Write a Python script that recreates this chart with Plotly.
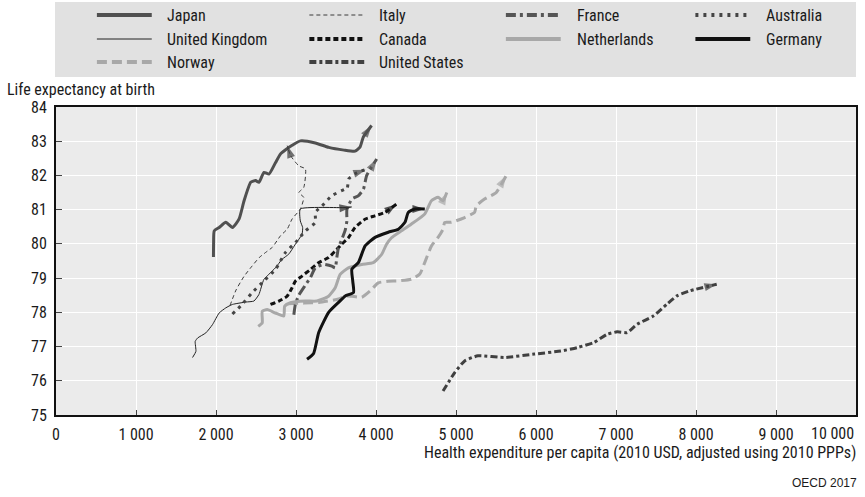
import plotly.graph_objects as go

# ---------------- data ----------------
japan_x = [1968, 1970, 1978, 2040, 2123, 2206, 2289, 2351, 2434, 2496, 2537, 2600, 2662, 2745, 2807, 2870, 2952, 3055, 3241, 3408, 3600, 3738, 3800, 3841, 3945]
japan_y = [79.62, 80.0, 80.38, 80.48, 80.63, 80.48, 80.73, 81.26, 81.8, 81.85, 81.8, 82.09, 82.04, 82.38, 82.63, 82.75, 82.88, 83.01, 82.95, 82.82, 82.74, 82.71, 82.83, 83.12, 83.46]

italy_x = [2175, 2250, 2350, 2450, 2540, 2620, 2704, 2807, 2890, 2952, 3055, 3097, 3035, 3097, 3118, 3035, 2932, 2890]
italy_y = [78.2, 78.65, 79.05, 79.35, 79.6, 79.75, 79.9, 80.24, 80.43, 80.73, 81.02, 81.36, 81.5, 81.65, 82.19, 82.28, 82.58, 82.87]

france_x = [2973, 2992, 3035, 3118, 3179, 3241, 3345, 3448, 3490, 3510, 3531, 3574, 3615, 3636, 3636, 3698, 3781, 3843, 3884, 4009]
france_y = [77.93, 78.23, 78.5, 78.8, 79.01, 79.3, 79.4, 79.35, 79.3, 79.6, 79.89, 80.14, 80.4, 80.67, 81.0, 81.31, 81.41, 81.6, 82.0, 82.48]

australia_x = [2205, 2309, 2454, 2600, 2745, 2869, 2993, 3118, 3242, 3242, 3325, 3449, 3615, 3640, 3660, 3760, 3870]
australia_y = [77.95, 78.19, 78.58, 78.92, 79.26, 79.75, 80.04, 80.38, 80.63, 80.92, 81.11, 81.41, 81.6, 81.62, 81.9, 82.08, 82.17]

uk_x = [1707, 1749, 1740, 1770, 1873, 1956, 2039, 2122, 2205, 2371, 2474, 2536, 2598, 2660, 2743, 2826, 2909, 2992, 3075, 3083, 3054, 3054, 3614, 3697]
uk_y = [76.68, 76.86, 77.15, 77.25, 77.4, 77.64, 77.98, 78.13, 78.23, 78.3, 78.33, 78.52, 78.96, 79.11, 79.3, 79.55, 79.7, 79.99, 80.28, 80.48, 80.67, 81.02, 81.06, 81.08]

canada_x = [2681, 2785, 2888, 2951, 2992, 3075, 3179, 3282, 3407, 3490, 3572, 3655, 3738, 3862, 3987, 4111, 4256]
canada_y = [78.23, 78.33, 78.47, 78.72, 78.91, 79.06, 79.25, 79.45, 79.6, 79.79, 79.99, 80.18, 80.48, 80.72, 80.82, 80.92, 81.16]

netherlands_x = [2528, 2578, 2578, 2640, 2743, 2847, 2859, 2930, 3117, 3262, 3407, 3490, 3552, 3655, 3821, 3966, 4070, 4132, 4194, 4318, 4443, 4608, 4693, 4776, 4838, 4885]
netherlands_y = [77.59, 77.69, 78.03, 78.08, 77.98, 77.89, 78.18, 78.28, 78.33, 78.33, 78.47, 78.72, 79.11, 79.3, 79.4, 79.45, 79.69, 79.99, 80.18, 80.38, 80.58, 80.87, 81.26, 81.36, 81.26, 81.5]

germany_x = [3138, 3220, 3284, 3408, 3532, 3616, 3719, 3710, 3698, 3781, 3864, 3988, 4154, 4279, 4362, 4403, 4486, 4610]
germany_y = [76.63, 76.8, 77.41, 78.0, 78.29, 78.48, 78.58, 78.9, 79.26, 79.46, 79.94, 80.19, 80.34, 80.43, 80.63, 80.92, 81.02, 81.02]

norway_x = [2900, 3100, 3284, 3532, 3616, 3697, 3822, 3924, 4028, 4152, 4279, 4444, 4548, 4610, 4693, 4776, 4838, 4859, 4942, 5108, 5232, 5253, 5357, 5502, 5626]
norway_y = [78.25, 78.27, 78.29, 78.39, 78.48, 78.47, 78.44, 78.62, 78.86, 78.91, 78.92, 78.97, 79.12, 79.46, 79.94, 80.19, 80.43, 80.63, 80.63, 80.77, 80.92, 81.11, 81.31, 81.5, 81.99]

us_x = [4838, 4984, 5108, 5274, 5606, 5979, 6310, 6517, 6725, 6891, 7015, 7139, 7264, 7471, 7637, 7761, 7927, 8259]
us_y = [75.7, 76.24, 76.58, 76.73, 76.68, 76.78, 76.87, 76.97, 77.12, 77.36, 77.43, 77.41, 77.65, 77.9, 78.24, 78.48, 78.63, 78.82]

xtick_vals = [0, 1000, 2000, 3000, 4000, 5000, 6000, 7000, 8000, 9000, 10000]
xtick_text = ["0", "1 000", "2 000", "3 000", "4 000", "5 000", "6 000", "7 000", "8 000", "9 000", "10 000"]
ytick_vals = [75, 76, 77, 78, 79, 80, 81, 82, 83, 84]

# ---------------- styling ----------------
NARROW = "Roboto Condensed, Liberation Sans Narrow, Arial Narrow, sans-serif"
TXT = "#1a1a1a"
FS = 16

# name, x, y, colour, width, dash, legend column, legend row
series = [
    ("Japan", japan_x, japan_y, "#505050", 3, "solid", 0, 0),
    ("United Kingdom", uk_x, uk_y, "#222222", 1, "solid", 0, 1),
    ("Norway", norway_x, norway_y, "#a8a8a8", 3, "10px,5px", 0, 2),
    ("Italy", italy_x, italy_y, "#3a3a3a", 1, "4px,3px", 1, 0),
    ("Canada", canada_x, canada_y, "#111111", 3, "5px,3px", 1, 1),
    ("United States", us_x, us_y, "#404040", 3, "7px,3px,3px,3px", 1, 2),
    ("France", france_x, france_y, "#555555", 3, "10px,4px,3px,4px", 2, 0),
    ("Netherlands", netherlands_x, netherlands_y, "#a8a8a8", 3, "solid", 2, 1),
    ("Australia", australia_x, australia_y, "#454545", 3, "3px,5px", 3, 0),
    ("Germany", germany_x, germany_y, "#111111", 3, "solid", 3, 1),
]

W, H = 865, 497
ML, MR, MT, MB = 56, 7, 107, 82
PW, PH = W - ML - MR, H - MT - MB


def px_x(p):
    return (p - ML) / PW


def px_y(p):
    return (H - MB - p) / PH


LEG_SYM_X = [97, 310, 507, 697]
LEG_SYM_W = 55
LEG_TXT_X = [165, 378, 576, 766]
LEG_ROW_Y = [15, 39, 62]

fig = go.Figure()
for name, xs, ys, color, width, dash, col, row in series:
    fig.add_trace(go.Scatter(
        x=xs, y=ys, mode="lines", name=name, showlegend=False,
        line=dict(color=color, width=width, dash=dash, shape="spline", smoothing=0.5),
    ))
for name, xs, ys, color, width, dash, col, row in series:
    fig.add_trace(go.Scatter(
        x=xs[-2:], y=ys[-2:], mode="markers", showlegend=False, hoverinfo="skip",
        marker=dict(symbol="arrow", size=[0, 13], angleref="previous", color=color,
                    line=dict(width=0)),
    ))

shapes = [dict(type="rect", xref="paper", yref="paper", x0=px_x(55), x1=px_x(858),
               y0=px_y(77), y1=px_y(2), fillcolor="#e1e1e1", line=dict(width=0),
               layer="below")]
annotations = []
for name, xs, ys, color, width, dash, col, row in series:
    yy = px_y(LEG_ROW_Y[row])
    shapes.append(dict(type="line", xref="paper", yref="paper",
                       x0=px_x(LEG_SYM_X[col]), x1=px_x(LEG_SYM_X[col] + LEG_SYM_W),
                       y0=yy, y1=yy, line=dict(color=color, width=width + (1 if width >= 3 else 0), dash=dash)))
    annotations.append(dict(text=name, xref="paper", yref="paper", x=px_x(LEG_TXT_X[col]), y=yy,
                            xanchor="left", yanchor="middle", showarrow=False,
                            font=dict(family=NARROW, size=FS, color=TXT)))

annotations += [
    dict(text="Life expectancy at birth", xref="paper", yref="paper",
         x=px_x(5), y=px_y(90), xanchor="left", yanchor="middle", showarrow=False,
         font=dict(family=NARROW, size=FS, color=TXT)),
    dict(text="Health expenditure per capita (2010 USD, adjusted using 2010 PPPs)",
         xref="paper", yref="paper", x=px_x(860), y=px_y(452), xanchor="right",
         yanchor="middle", showarrow=False,
         font=dict(family=NARROW, size=FS, color=TXT)),
    dict(text=xtick_text[-1], xref="x", yref="paper", x=xtick_vals[-1], y=px_y(433),
         xanchor="right", yanchor="middle", showarrow=False,
         font=dict(family=NARROW, size=FS, color=TXT)),
    dict(text="OECD 2017", xref="paper", yref="paper", x=px_x(861), y=px_y(483),
         xanchor="right", yanchor="middle", showarrow=False,
         font=dict(family="Liberation Sans, Arial, sans-serif", size=12, color=TXT)),
]

fig.update_layout(
    width=W, height=H,
    margin=dict(l=ML, r=MR, t=MT, b=MB),
    paper_bgcolor="white",
    plot_bgcolor="#ebebeb",
    font=dict(family=NARROW, size=FS, color=TXT),
    showlegend=False,
    shapes=shapes,
    annotations=annotations,
)

fig.update_xaxes(
    range=[0, 10000], tickvals=xtick_vals, ticktext=xtick_text[:-1] + [""],
    showgrid=True, gridcolor="white", gridwidth=1, zeroline=False,
    showline=True, linecolor="#111111", linewidth=2, mirror=True,
    ticks="inside", ticklen=5, tickcolor="#444444", tickwidth=1,
    ticklabelstandoff=4,
    tickfont=dict(family=NARROW, size=FS, color=TXT),
)
fig.update_yaxes(
    range=[75, 84], tickvals=ytick_vals,
    showgrid=True, gridcolor="white", gridwidth=1, zeroline=False,
    showline=True, linecolor="#111111", linewidth=2, mirror=True,
    ticks="inside", ticklen=6, tickcolor="#444444", tickwidth=1,
    ticklabelstandoff=4,
    tickfont=dict(family=NARROW, size=FS, color=TXT),
)

fig.write_html("out.html", config={"displayModeBar": False},
               post_script="document.body.style.margin='0px';")
